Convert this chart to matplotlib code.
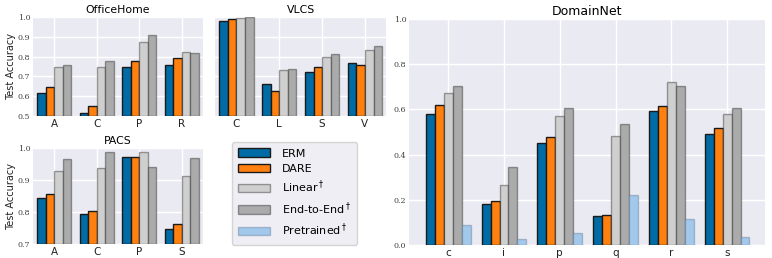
import numpy as np
import matplotlib
matplotlib.use('Agg')
import matplotlib.pyplot as plt
from matplotlib.patches import Patch

# dados
metodos = ['ERM', 'DARE', r'Linear$^\dagger$', r'End-to-End$^\dagger$', r'Pretrained$^\dagger$']
cores = ['#006BA4', '#FF800E', '#CFCFCF', '#ABABAB', '#A2C8EC']

office_dom = ['A', 'C', 'P', 'R']
office_erm = [0.614, 0.517, 0.748, 0.759]
office_dare = [0.647, 0.552, 0.776, 0.793]
office_linear = [0.748, 0.747, 0.874, 0.822]
office_e2e = [0.759, 0.778, 0.907, 0.819]

vlcs_dom = ['C', 'L', 'S', 'V']
vlcs_erm = [0.981, 0.662, 0.723, 0.765]
vlcs_dare = [0.990, 0.626, 0.746, 0.759]
vlcs_linear = [0.997, 0.731, 0.796, 0.835]
vlcs_e2e = [0.998, 0.738, 0.814, 0.852]

pacs_dom = ['A', 'C', 'P', 'S']
pacs_erm = [0.844, 0.795, 0.972, 0.747]
pacs_dare = [0.857, 0.803, 0.971, 0.764]
pacs_linear = [0.929, 0.936, 0.986, 0.914]
pacs_e2e = [0.965, 0.987, 0.942, 0.968]

dn_dom = ['c', 'i', 'p', 'q', 'r', 's']
dn_erm = [0.578, 0.180, 0.450, 0.127, 0.593, 0.490]
dn_dare = [0.619, 0.193, 0.478, 0.131, 0.614, 0.518]
dn_linear = [0.675, 0.265, 0.572, 0.481, 0.721, 0.581]
dn_e2e = [0.702, 0.347, 0.608, 0.537, 0.706, 0.605]
dn_pre = [0.087, 0.025, 0.053, 0.223, 0.115, 0.035]

plt.rcParams['font.family'] = 'DejaVu Sans'

fig = plt.figure(figsize=(7.72, 2.58), dpi=100)

bordas = ['#1a1a1a', '#1a1a1a', (0, 0, 0, 0.35), (0, 0, 0, 0.35), (0.3, 0.4, 0.5, 0.35)]


def barras(ax, doms, series, largura, titulo, ylim, yticks, ylabel=None):
    x = np.arange(len(doms))
    n = len(series)
    for k, vals in enumerate(series):
        off = (k - (n - 1) / 2) * largura
        ax.bar(x + off, np.array(vals) - ylim[0], largura, bottom=ylim[0],
               color=cores[k], edgecolor=bordas[k], linewidth=1.0, zorder=3)
    ax.set_facecolor('#EAEAF2')
    ax.grid(True, color='white', linewidth=1.0, zorder=0)
    ax.set_axisbelow(True)
    for s in ax.spines.values():
        s.set_visible(False)
    ax.set_xticks(x)
    ax.set_xticklabels(doms, fontsize=7.5, color='#222222')
    ax.set_ylim(ylim)
    ax.set_yticks(yticks)
    ax.set_yticklabels(['%.1f' % t for t in yticks], fontsize=5.8, family='DejaVu Serif', color='#444444')
    ax.tick_params(length=0, pad=2)
    ax.set_title(titulo, fontsize=7.8, pad=3)
    if ylabel:
        ax.set_ylabel(ylabel, fontsize=7, labelpad=1.5, color='#222222')


ax1 = fig.add_axes([0.043, 0.5504, 0.220, 0.384])
barras(ax1, office_dom, [office_erm, office_dare, office_linear, office_e2e], 0.2,
       'OfficeHome', (0.5, 1.0), [0.5, 0.6, 0.7, 0.8, 0.9, 1.0], 'Test Accuracy')
ax1.set_xlim(-0.5, 3.5)

ax2 = fig.add_axes([0.2785, 0.5504, 0.222, 0.384])
barras(ax2, vlcs_dom, [vlcs_erm, vlcs_dare, vlcs_linear, vlcs_e2e], 0.2,
       'VLCS', (0.5, 1.0), [0.5, 0.6, 0.7, 0.8, 0.9, 1.0])
ax2.set_yticklabels([])
ax2.set_xlim(-0.5, 3.5)

ax3 = fig.add_axes([0.043, 0.0543, 0.220, 0.372])
barras(ax3, pacs_dom, [pacs_erm, pacs_dare, pacs_linear, pacs_e2e], 0.2,
       'PACS', (0.7, 1.0), [0.7, 0.8, 0.9, 1.0], 'Test Accuracy')
ax3.set_xlim(-0.5, 3.5)

ax4 = fig.add_axes([0.530, 0.050, 0.461, 0.876])
barras(ax4, dn_dom, [dn_erm, dn_dare, dn_linear, dn_e2e, dn_pre], 0.16,
       'DomainNet', (0.0, 1.0), [0.0, 0.2, 0.4, 0.6, 0.8, 1.0])
ax4.set_xlim(-0.7, 5.68)
ax4.title.set_fontsize(9)

handles = [Patch(facecolor=cores[k], edgecolor=bordas[k], linewidth=1.0, label=metodos[k])
           for k in range(5)]
leg = fig.legend(handles=handles, loc='upper left', bbox_to_anchor=(0.293, 0.47),
                 fontsize=8, frameon=True, fancybox=True, handlelength=2.9, handleheight=0.8,
                 labelspacing=0.45, borderpad=0.55, handletextpad=1.1)
leg.get_frame().set_facecolor('#EAEAF2')
leg.get_frame().set_edgecolor('#CCCCCC')

plt.savefig('out.png', dpi=100)
